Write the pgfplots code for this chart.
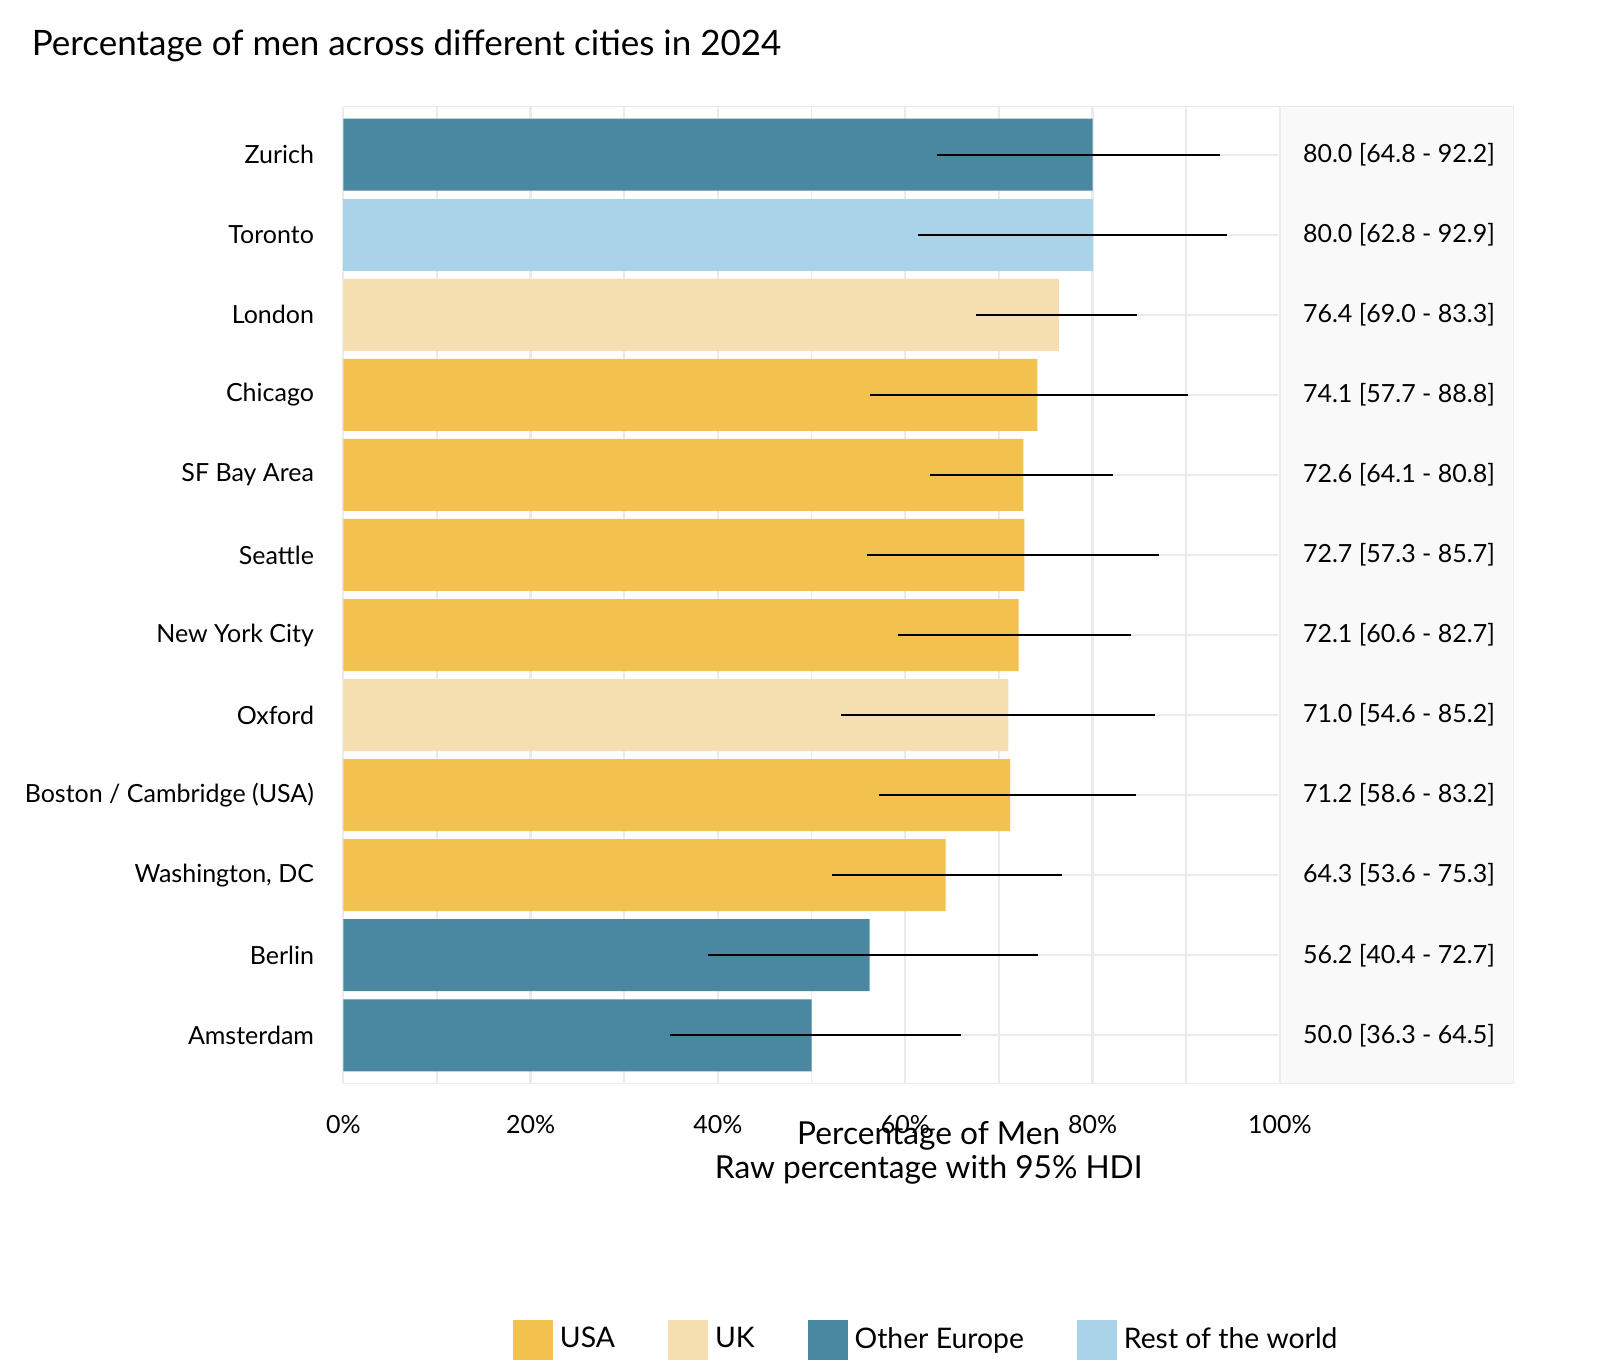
\documentclass[border=0pt]{standalone}
\usepackage{pgfplots}
\pgfplotsset{compat=1.18}
\usepackage{fontspec}
\setmainfont{Lato}
\definecolor{usa}{HTML}{F2C14E}
\definecolor{uk}{HTML}{F5DFB0}
\definecolor{oeu}{HTML}{4A87A0}
\definecolor{row}{HTML}{A8D3E8}
\definecolor{gridc}{HTML}{EBEBEB}
\begin{document}
\begin{tikzpicture}
\fill[white] (-103pt,-75pt) rectangle (377pt,325pt);
\begin{axis}[
  scale only axis, width=281pt, height=293pt,
  xmin=0, xmax=100, ymin=-0.6, ymax=11.6,
  clip=false,
  axis line style={draw=none},
  tick style={draw=none},
  xtick={0,20,40,60,80,100},
  xticklabels={0\%,20\%,40\%,60\%,80\%,100\%},
  minor xtick={10,30,50,70,90},
  xmajorgrids, xminorgrids, ymajorgrids,
  grid style={gridc, line width=0.7pt},
  minor grid style={gridc, line width=0.5pt},
  ytick={0,...,11},
  yticklabels={Amsterdam,Berlin,{Washington, DC},Boston / Cambridge (USA),Oxford,New York City,Seattle,SF Bay Area,Chicago,London,Toronto,Zurich},
  tick label style={font=\fontsize{7.5}{9}\selectfont},
  xticklabel style={yshift=-6pt},
  yticklabel style={xshift=-1pt},
  xlabel={Percentage of Men\\Raw percentage with 95\% HDI},
  xlabel style={font=\fontsize{9.5}{10}\selectfont, align=center, at={(rel axis cs:0.625,0)}, yshift=-8pt},
  xbar, bar shift=0pt, bar width=21.6pt,
  legend columns=4,
  legend style={draw=none, at={(0.625,-0.235)}, anchor=north, font=\fontsize{8.5}{10}\selectfont,
    /tikz/every even column/.append style={column sep=14pt}},
  legend image code/.code={\fill[#1] (0pt,-6pt) rectangle (12pt,6pt);},
  title={Percentage of men across different cities in 2024},
  title style={font=\fontsize{10.5}{12}\selectfont, at={(0,1)}, anchor=south west, xshift=-97pt, yshift=4pt},
]
\fill[gray!5, draw=gridc] (axis cs:100,-0.6) rectangle (axis cs:124.9,11.6);
\draw[gridc] (axis cs:0,-0.6) rectangle (axis cs:124.9,11.6);
\addplot[fill=usa, draw=none] coordinates {(74.1,8) (72.6,7) (72.7,6) (72.1,5) (71.2,3) (64.3,2)};
\addplot[fill=uk, draw=none] coordinates {(76.4,9) (71.0,4)};
\addplot[fill=oeu, draw=none] coordinates {(80.0,11) (56.2,1) (50.0,0)};
\addplot[fill=row, draw=none] coordinates {(80.0,10)};
\legend{USA,UK,Other Europe,Rest of the world}
\addplot[forget plot, draw=none, xbar=0pt, bar width=0pt, mark=none,
  error bars/.cd, x dir=both, x explicit,
  error bar style={black, line width=0.6pt},
  error mark options={black, line width=0.6pt, mark size=4pt}]
 coordinates {
 (80.0,11) -= (15.2,0) += (12.2,0)
 (80.0,10) -= (17.2,0) += (12.9,0)
 (76.4,9) -= (7.4,0) += (6.9,0)
 (74.1,8) -= (16.4,0) += (14.7,0)
 (72.6,7) -= (8.5,0) += (8.2,0)
 (72.7,6) -= (15.4,0) += (13.0,0)
 (72.1,5) -= (11.5,0) += (10.6,0)
 (71.0,4) -= (16.4,0) += (14.2,0)
 (71.2,3) -= (12.6,0) += (12.0,0)
 (64.3,2) -= (10.7,0) += (11.0,0)
 (56.2,1) -= (15.8,0) += (16.5,0)
 (50.0,0) -= (13.7,0) += (14.5,0)
 };
\tikzset{lab/.style={anchor=west, font=\fontsize{7.5}{9}\selectfont}}
\node[lab] at (axis cs:101.2,11) {80.0 [64.8 - 92.2]};
\node[lab] at (axis cs:101.2,10) {80.0 [62.8 - 92.9]};
\node[lab] at (axis cs:101.2,9) {76.4 [69.0 - 83.3]};
\node[lab] at (axis cs:101.2,8) {74.1 [57.7 - 88.8]};
\node[lab] at (axis cs:101.2,7) {72.6 [64.1 - 80.8]};
\node[lab] at (axis cs:101.2,6) {72.7 [57.3 - 85.7]};
\node[lab] at (axis cs:101.2,5) {72.1 [60.6 - 82.7]};
\node[lab] at (axis cs:101.2,4) {71.0 [54.6 - 85.2]};
\node[lab] at (axis cs:101.2,3) {71.2 [58.6 - 83.2]};
\node[lab] at (axis cs:101.2,2) {64.3 [53.6 - 75.3]};
\node[lab] at (axis cs:101.2,1) {56.2 [40.4 - 72.7]};
\node[lab] at (axis cs:101.2,0) {50.0 [36.3 - 64.5]};
\end{axis}
\end{tikzpicture}
\end{document}
